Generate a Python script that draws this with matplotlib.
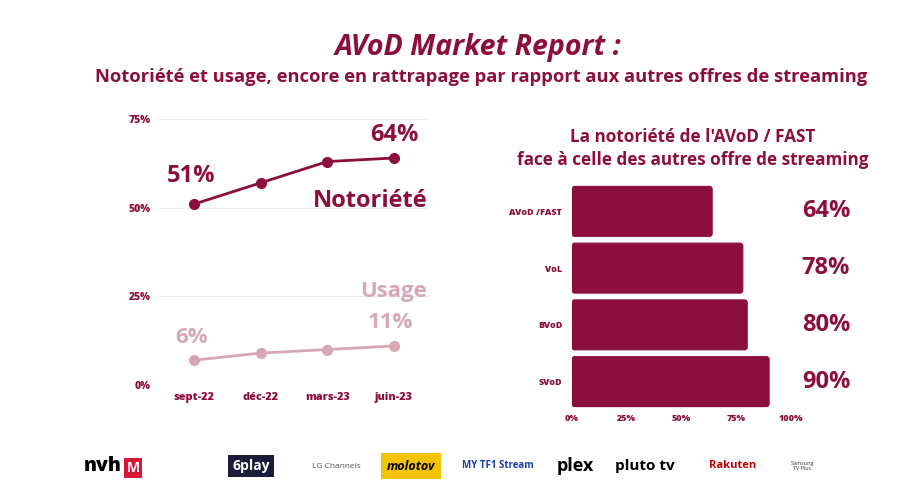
import matplotlib
matplotlib.use("Agg")
import matplotlib.pyplot as plt
from matplotlib.patches import FancyBboxPatch

plt.rcParams['font.family'] = ['Open Sans', 'DejaVu Sans']

MAROON = '#8B0E3D'
PINK = '#D6A8B4'

# ---- data ----
months = ['sept-22', 'déc-22', 'mars-23', 'juin-23']
notoriete = [51, 57, 63, 64]
usage = [7, 9, 10, 11]
notoriete_labels = ['51%', '64%']
usage_labels = ['6%', '11%']
yticks_left = [0, 25, 50, 75]

bar_cats = ['AVoD /FAST', 'VoL', 'BVoD', 'SVoD']
bar_vals = [64, 78, 80, 90]
xticks_right = [0, 25, 50, 75, 100]

logos = ['nvh', '6play', 'LG Channels', 'molotov', 'MY TF1 Stream', 'plex',
         'pluto tv', 'Rakuten', 'Samsung\nTV Plus']

W, H = 914, 503
fig = plt.figure(figsize=(W / 100, H / 100), dpi=100)
fig.patch.set_facecolor('white')

def fx(px):
    return px / W

def fy(py):
    return 1 - py / H

# titles
fig.text(fx(478), fy(47), 'AVoD Market Report :', ha='center', va='center',
         fontsize=20.5, fontweight='bold', fontstyle='italic', color=MAROON)
fig.text(fx(481), fy(77), 'Notoriété et usage, encore en rattrapage par rapport aux autres offres de streaming',
         ha='center', va='center', fontsize=13.2, fontweight='bold', color=MAROON)

# ---- left line chart ----
axL = fig.add_axes([fx(158), fy(385), fx(430) - fx(158), fy(119) - fy(385)])
x = list(range(len(months)))
axL.plot(x, notoriete, color=MAROON, lw=2, marker='o', ms=7, clip_on=False, zorder=3)
axL.plot(x, usage, color=PINK, lw=2, marker='o', ms=7, clip_on=False, zorder=3)
axL.set_xlim(-0.54, 3.54)
axL.set_ylim(0, 75)
axL.set_yticks(yticks_left)
axL.set_yticklabels([f'{v}%' for v in yticks_left])
axL.set_xticks(x)
axL.set_xticklabels(months)
axL.grid(axis='y', color='#EEEEEE', lw=0.8)
axL.set_axisbelow(True)
for s in axL.spines.values():
    s.set_visible(False)
axL.tick_params(length=0, colors=MAROON)
for lab in axL.get_yticklabels():
    lab.set_fontsize(7.5)
    lab.set_fontweight('heavy')
for lab in axL.get_xticklabels():
    lab.set_fontsize(7.8)
    lab.set_fontweight('heavy')
axL.tick_params(axis='x', pad=5)
axL.tick_params(axis='y', pad=5)

axL.text(-0.05, 59, notoriete_labels[0], ha='center', va='center', fontsize=17,
         fontweight='bold', color=MAROON)
axL.text(3.0, 70.5, notoriete_labels[1], ha='center', va='center', fontsize=17,
         fontweight='bold', color=MAROON)
axL.text(3.5, 52, 'Notoriété', ha='right', va='center', fontsize=17,
         fontweight='bold', color=MAROON)
axL.text(3.5, 26.5, 'Usage', ha='right', va='center', fontsize=16,
         fontweight='bold', color=PINK)
axL.text(2.95, 17.5, usage_labels[1], ha='center', va='center', fontsize=16,
         fontweight='bold', color=PINK)
axL.text(-0.03, 13.5, usage_labels[0], ha='center', va='center', fontsize=16,
         fontweight='bold', color=PINK)

# ---- right bar chart ----
fig.text(fx(693), fy(137), "La notoriété de l'AVoD / FAST", ha='center', va='center',
         fontsize=12.3, fontweight='bold', color=MAROON)
fig.text(fx(693), fy(160), 'face à celle des autres offre de streaming', ha='center', va='center',
         fontsize=12.3, fontweight='bold', color=MAROON)

axR = fig.add_axes([fx(572), fy(410), fx(791) - fx(572), fy(183) - fy(410)])
yb = list(range(len(bar_cats)))
bars = axR.barh(yb, bar_vals, height=0.88, color='none', edgecolor='none')
for b in bars:
    p = FancyBboxPatch((b.get_x(), b.get_y()), b.get_width(), b.get_height(),
                       boxstyle='round,pad=0,rounding_size=1.2',
                       mutation_aspect=0.88 / 50 * 2.2,
                       fc=MAROON, ec=MAROON, lw=0.8)
    axR.add_patch(p)
axR.set_ylim(3.5, -0.5)
axR.set_xlim(0, 100)
axR.set_yticks(yb)
axR.set_yticklabels(bar_cats)
axR.set_xticks(xticks_right)
axR.set_xticklabels([f'{v}%' for v in xticks_right])
for s in axR.spines.values():
    s.set_visible(False)
axR.tick_params(length=0, colors=MAROON)
for lab in axR.get_yticklabels():
    lab.set_fontsize(6.5)
    lab.set_fontweight('heavy')
for lab in axR.get_xticklabels():
    lab.set_fontsize(6.5)
    lab.set_fontweight('heavy')
axR.tick_params(axis='y', pad=7)
axR.tick_params(axis='x', pad=3)
for i, v in enumerate(bar_vals):
    axR.text(116, i, f'{v}%', ha='center', va='center', fontsize=17,
             fontweight='bold', color=MAROON, clip_on=False)

# ---- logos row (approximated as text) ----
logo_x = [103, 251, 336, 411, 498, 575, 645, 733, 802]
logo_style = [
    dict(fontsize=14, fontweight='black', color='black'),
    dict(fontsize=10, fontweight='bold', color='white',
         bbox=dict(boxstyle='square,pad=0.3', fc='#1B1B3A', ec='none')),
    dict(fontsize=6, color='#555555'),
    dict(fontsize=9, fontweight='bold', fontstyle='italic', color='black',
         bbox=dict(boxstyle='square,pad=0.5', fc='#F5C400', ec='none')),
    dict(fontsize=7, fontweight='bold', color='#1A3FA8'),
    dict(fontsize=13, fontweight='bold', color='black'),
    dict(fontsize=11, fontweight='bold', color='black'),
    dict(fontsize=8, fontweight='bold', color='#BF0000'),
    dict(fontsize=4, color='#333333'),
]
for lx, name, st in zip(logo_x, logos, logo_style):
    fig.text(fx(lx), fy(466), name, ha='center', va='center', **st)
fig.text(fx(133), fy(468), 'M', ha='center', va='center', fontsize=10,
         fontweight='bold', color='white',
         bbox=dict(boxstyle='square,pad=0.2', fc='#D6163A', ec='none'))

fig.savefig('out.png', dpi=100, facecolor='white')
